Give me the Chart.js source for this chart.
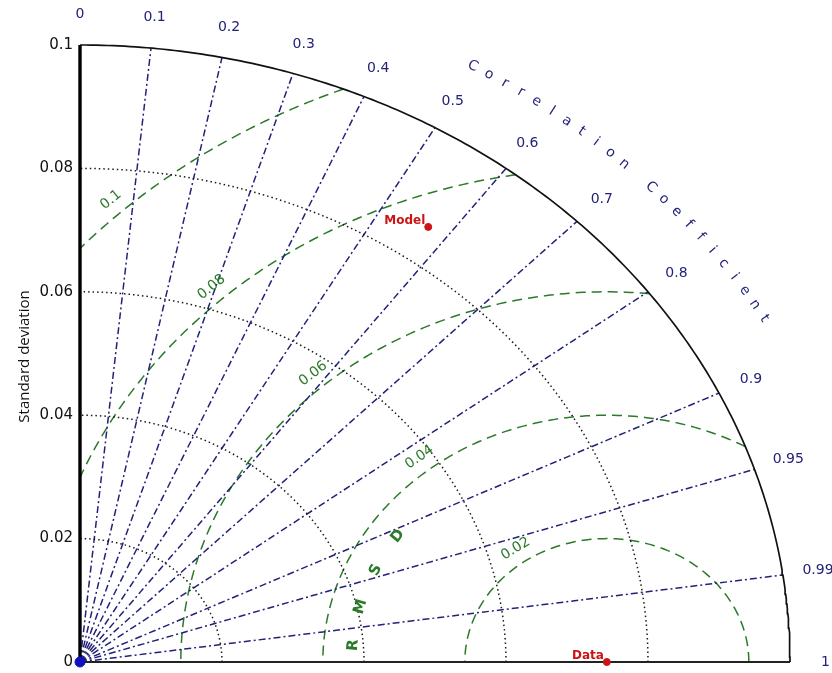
<!DOCTYPE html>
<html><head><meta charset="utf-8">
<script src="https://cdn.jsdelivr.net/npm/chart.js@4/dist/chart.umd.min.js"></script>
<style>html,body{margin:0;padding:0;background:#fff}canvas{display:block}</style>
</head><body>
<canvas id="c" width="832" height="673"></canvas>
<script>
// ---- data ----
const stdTicks = [0, 0.02, 0.04, 0.06, 0.08, 0.1];
const stdMax = 0.1;
const corrTicks = [0, 0.1, 0.2, 0.3, 0.4, 0.5, 0.6, 0.7, 0.8, 0.9, 0.95, 0.99, 1];
const corrLines = [0.1, 0.2, 0.3, 0.4, 0.5, 0.6, 0.7, 0.8, 0.9, 0.95, 0.99];
const rmsLevels = [0.02, 0.04, 0.06, 0.08, 0.1];
const pointNames = ['Data', 'Model'];
const pointStd = [0.0742, 0.0859];
const pointCorr = [1, 0.571];

// ---- styles ----
const NAVY = '#22227a';
const GREEN = '#2a7a2a';
const RED = '#cc1414';
const rmsLabelAngles = [125, 128.5, 131.5, 132.5, 133]; // degrees around reference point
const refStd = pointStd[0];

function arcPts(cx, R, a0, a1, n) {
  const pts = [];
  for (let i = 0; i <= n; i++) {
    const a = a0 + (a1 - a0) * i / n;
    pts.push({x: cx + R * Math.cos(a), y: R * Math.sin(a)});
  }
  return pts;
}
function lineDs(data, color, width, dash, order) {
  return {type: 'scatter', data, showLine: true, borderColor: color, borderWidth: width,
    borderDash: dash, pointRadius: 0, pointHoverRadius: 0, fill: false, tension: 0, clip: false, order: order || 2};
}

const datasets = [];
// points
datasets.push({type: 'scatter', data: pointStd.map((s, i) => ({x: s * pointCorr[i], y: s * Math.sqrt(1 - pointCorr[i] * pointCorr[i])})),
  pointRadius: 3.5, pointBackgroundColor: RED, pointBorderColor: RED, clip: false, order: 0});
datasets.push({type: 'scatter', data: [{x: 0, y: 0}], pointRadius: 5, pointBackgroundColor: '#1010c0', pointBorderColor: '#1010c0', clip: false, order: 0});
// std dev dotted arcs
stdTicks.filter(s => s > 0 && s < stdMax).forEach(s => datasets.push(lineDs(arcPts(0, s, 0, Math.PI / 2, 120), '#1a1a1a', 1.5, [1.5, 3])));
// correlation lines
corrLines.forEach(r => datasets.push(lineDs([{x: 0, y: 0}, {x: stdMax * r, y: stdMax * Math.sqrt(1 - r * r)}], NAVY, 1.5, [7, 3, 2, 3])));
// RMS arcs
rmsLevels.forEach(R => {
  const c = refStd;
  const lo = Math.acos(Math.min(1, (stdMax * stdMax - c * c - R * R) / (2 * c * R)));
  const hi = Math.acos(Math.max(-1, -c / R));
  datasets.push(lineDs(arcPts(c, R, lo, hi, 150), GREEN, 1.5, [10, 6]));
});
// outer arc and axes
datasets.push(lineDs(arcPts(0, stdMax, 0, Math.PI / 2, 200), '#111', 1.7, [], 1));
datasets.push(lineDs([{x: 0, y: 0}, {x: 0, y: stdMax}], '#000', 3.4, [], 1));
datasets.push(lineDs([{x: 0, y: 0}, {x: stdMax, y: 0}], '#222', 2.2, [], 1));

const textPlugin = {
  id: 'taylorText',
  afterDatasetsDraw(chart) {
    const ctx = chart.ctx, xs = chart.scales.x, ys = chart.scales.y;
    const px = v => xs.getPixelForValue(v), py = v => ys.getPixelForValue(v);
    const sx = px(1) - px(0), sy = py(0) - py(1);
    ctx.save();
    // y tick labels
    ctx.fillStyle = '#111';
    ctx.font = '15px "DejaVu Sans"';
    ctx.textAlign = 'right'; ctx.textBaseline = 'middle';
    stdTicks.forEach(s => ctx.fillText(String(s), px(0) - 7, py(s)));
    // axis title
    ctx.save();
    ctx.translate(25, (py(0) + py(stdMax)) / 2 + 3);
    ctx.rotate(-Math.PI / 2);
    ctx.textAlign = 'center';
    ctx.font = '15px "Open Sans"';
    ctx.fillText('Standard deviation', 0, 0);
    ctx.restore();
    // correlation tick labels
    ctx.fillStyle = NAVY;
    ctx.font = '14px "DejaVu Sans"';
    ctx.textAlign = 'center';
    corrTicks.forEach(r => {
      const rr = stdMax * 1.05;
      const a = Math.acos(r);
      ctx.fillText(String(r), px(rr * Math.cos(a)), py(rr * Math.sin(a)));
    });
    // Correlation Coefficient curved
    const title = 'Correlation Coefficient';
    const rt = stdMax * 1.113, a0 = 60.2, a1 = 30;
    ctx.font = '14px "DejaVu Sans"';
    for (let i = 0; i < title.length; i++) {
      const a = (a0 + (a1 - a0) * i / (title.length - 1)) * Math.PI / 180;
      const x = px(rt * Math.cos(a)), y = py(rt * Math.sin(a));
      const rot = Math.atan2(Math.cos(a) * sy, Math.sin(a) * sx);
      ctx.save(); ctx.translate(x, y); ctx.rotate(rot);
      ctx.fillText(title[i], 0, 0); ctx.restore();
    }
    // RMS labels
    ctx.fillStyle = GREEN;
    ctx.font = '14px "DejaVu Sans"';
    rmsLevels.forEach((R, i) => {
      const a = rmsLabelAngles[i] * Math.PI / 180;
      const rr = R + 0.0024;
      const x = px(refStd + rr * Math.cos(a)), y = py(rr * Math.sin(a));
      const rot = Math.atan2(Math.cos(a) * sy, Math.sin(a) * sx);
      ctx.save(); ctx.translate(x, y); ctx.rotate(rot);
      ctx.fillText(String(R), 0, 0); ctx.restore();
    });
    // RMSD curved
    const rms = 'RMSD';
    ctx.font = 'bold 15px "DejaVu Sans"';
    for (let i = 0; i < rms.length; i++) {
      const a = (175.6 - 10.1 * i) * Math.PI / 180;
      const rr = 0.0358;
      const x = px(refStd + rr * Math.cos(a)), y = py(rr * Math.sin(a));
      const rot = Math.atan2(Math.cos(a) * sy, Math.sin(a) * sx);
      ctx.save(); ctx.translate(x, y); ctx.rotate(rot);
      ctx.fillText(rms[i], 0, 0); ctx.restore();
    }
    // point labels
    ctx.fillStyle = RED;
    ctx.font = 'bold 12px "DejaVu Sans"';
    ctx.textAlign = 'right'; ctx.textBaseline = 'alphabetic';
    pointNames.forEach((n, i) => {
      const s = pointStd[i], r = pointCorr[i];
      const x = px(s * r), y = py(s * Math.sqrt(1 - r * r));
      ctx.fillText(n, x - 3, y - 3);
    });
    ctx.restore();
  }
};

new Chart(document.getElementById('c'), {
  type: 'scatter',
  data: {datasets},
  options: {
    responsive: false, animation: false, devicePixelRatio: 1,
    layout: {padding: {left: 80, right: 42, top: 45, bottom: 11}},
    scales: {
      x: {type: 'linear', min: 0, max: stdMax, display: false},
      y: {type: 'linear', min: 0, max: stdMax, display: false}
    },
    plugins: {legend: {display: false}, tooltip: {enabled: false}}
  },
  plugins: [textPlugin]
});
</script>
</body></html>
